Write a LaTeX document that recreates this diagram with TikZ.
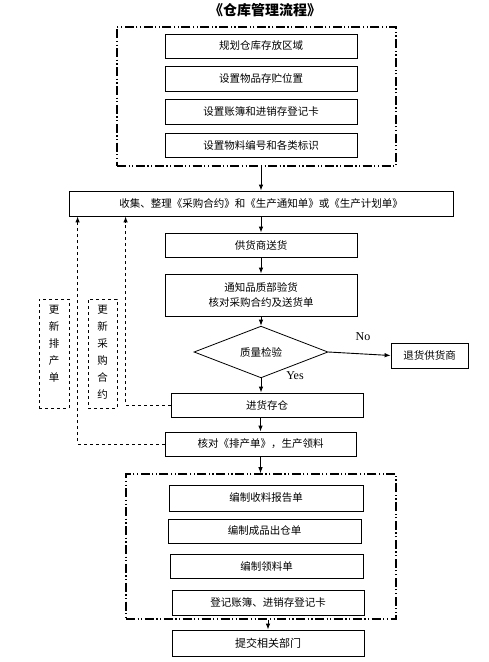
\documentclass[tikz,border=0pt]{standalone}
\usepackage{fontspec}
\setmainfont{Noto Sans CJK SC}
\newfontfamily\latinserif{Liberation Serif}
\usetikzlibrary{shapes.geometric,arrows.meta,calc}
\begin{document}
\begin{tikzpicture}[x=1pt,y=-1pt,
  box/.style={draw,line width=0.8pt,inner sep=0pt,minimum width=192pt,minimum height=24pt,font=\fontsize{10.5}{13}\selectfont,align=center},
  frame/.style={draw,line width=1.6pt,inner sep=0pt,dash pattern=on 9pt off 2.5pt on 1.2pt off 2.5pt on 1.2pt off 2.5pt},
  dbox/.style={draw,dashed,line width=0.8pt,inner sep=0pt},
  arr/.style={line width=0.9pt,-{Latex[length=6pt,width=4.5pt]}},
  darr/.style={line width=0.9pt,dashed,-{Latex[length=6pt,width=4.5pt]}},
  vtext/.style={inner sep=0pt,anchor=north,align=center,font=\fontsize{10.5}{17}\selectfont},
  lbl/.style={inner sep=0pt,font=\fontsize{12}{14}\latinserif}
]
\useasboundingbox (0,0) rectangle (489,662);
\fill[white] (0,0) rectangle (489,662);

\node[inner sep=0pt,font=\fontsize{14}{16}\selectfont\bfseries] (title) at (265,10) {《仓库管理流程》};

\node[frame,minimum width=279pt,minimum height=139pt] (f1) at (256.5,96.5) {};
\node[box] (b1) at (261,46) {规划仓库存放区域};
\node[box,minimum height=25pt] (b2) at (261,78.5) {设置物品存贮位置};
\node[box,minimum height=25pt] (b3) at (261,111.5) {设置账簿和进销存登记卡};
\node[box] (b4) at (261,145) {设置物料编号和各类标识};

\node[box,minimum width=384pt,minimum height=25pt] (b5) at (261,203.5) {收集、整理《采购合约》和《生产通知单》或《生产计划单》};
\node[box] (b6) at (261,245) {供货商送货};
\node[box,minimum height=42pt] (b7) at (261,295) {通知品质部验货\\[2pt]核对采购合约及送货单};
\node[draw,diamond,line width=0.8pt,inner sep=0pt,minimum width=134pt,minimum height=38pt,font=\fontsize{10.5}{13}\selectfont] (dia) at (261,352) {质量检验};
\node[box,minimum width=77pt,minimum height=25pt] (ret) at (429.5,355.5) {退货供货商};
\node[box] (jh) at (267,405) {进货存仓};
\node[box,minimum width=191pt] (jc) at (260.5,444) {核对《排产单》，生产领料};

\node[dbox,minimum width=30pt,minimum height=109pt] (u1) at (54,353.5) {};
\node[vtext] (u1t) at (54,305) {更\\新\\排\\产\\单};
\node[dbox,minimum width=29pt,minimum height=109pt] (u2) at (102.5,353.5) {};
\node[vtext] (u2t) at (102.5,305) {更\\新\\采\\购\\合\\约};

\node[frame,minimum width=270pt,minimum height=145pt] (f2) at (261,546.5) {};
\node[box,minimum width=194pt,minimum height=26pt] (c1) at (266,498) {编制收料报告单};
\node[box,minimum width=193pt] (c2) at (264.5,531) {编制成品出仓单};
\node[box,minimum width=193pt] (c3) at (266.5,566) {编制领料单};
\node[box,minimum height=25pt] (c4) at (268,602.5) {登记账簿、进销存登记卡};
\node[box,minimum height=26pt,font=\fontsize{11}{13}\selectfont] (c5) at (268,643) {提交相关部门};

\node[lbl] (no) at (363,337) {No};
\node[lbl] (yes) at (295,376) {Yes};

\draw[arr] (b5.north |- f1.south) -- (b5.north);
\draw[arr] (b5.south) -- (b6.north);
\draw[arr] (b6.south) -- (b7.north);
\draw[arr] (b7.south) -- (dia.north);
\draw[arr] (dia.east) -- (ret.west);
\draw[arr] (dia.south) -- (dia.south |- jh.north);
\draw[arr] (jh.south -| jc.north) -- (jc.north);
\draw[arr] (jc.south) -- (jc.south |- f2.north);
\draw[arr] (c5.north |- f2.south) -- (c5.north);

\draw[darr] (jh.west) -| ([xshift=57pt]b5.south west);
\draw[darr] (jc.west) -| ([xshift=9pt]b5.south west);
\end{tikzpicture}
\end{document}
